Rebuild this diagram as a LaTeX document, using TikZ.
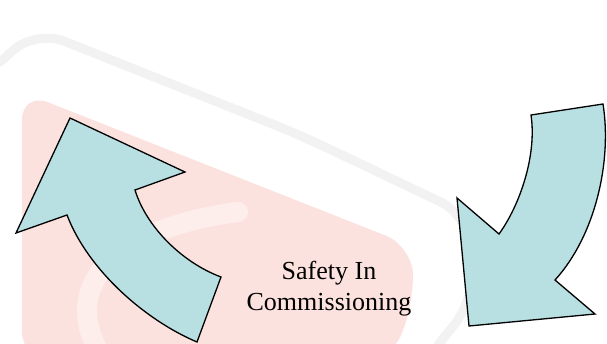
\documentclass[tikz,border=0pt]{standalone}
\usepackage{fontspec}
\setmainfont{Liberation Serif}
\tikzset{
  bigarrow/.style={fill=arrowblue, draw=black, line width=1.3pt, line join=miter},
  wmpink/.style={fill=wmred, draw=none, rounded corners=28pt},
  wmgrey/.style={draw=gray!10, line width=9pt, rounded corners=30pt, line cap=round},
  wmwhite/.style={draw=white, opacity=0.4, line width=20pt, line cap=round},
  caption/.style={align=center, font=\fontsize{26}{31}\selectfont, text=black, inner sep=0pt}
}
\definecolor{arrowblue}{RGB}{184,223,226}
\definecolor{wmred}{RGB}{252,226,222}
\begin{document}
\begin{tikzpicture}[x=1pt, y=-1pt]
  \useasboundingbox[fill=white] (0,0) rectangle (607,343);
  % watermark (faint background)
  \path[wmgrey] (0,62) -- (36,30) -- (300,135) -- (468,215) -- (474,300) -- (438,345);
  \path[wmpink] (22,360) -- (22,92) -- (412,246) -- (414,300) -- (392,360) -- cycle;
  \path[wmwhite] (98,350) .. controls (62,285) and (115,228) .. (238,212);
  % left arrow (pointing up-left)
  \path[bigarrow] (70,118) -- (185,172) -- (135,190)
     .. controls (146,226) and (181,262) .. (221,277)
     -- (197,342)
     .. controls (145,320) and (88,270) .. (67,215)
     -- (16,233) -- cycle;
  % right arrow (pointing down-left)
  \path[bigarrow] (531,115) -- (603,104)
     .. controls (612,160) and (596,235) .. (555,280)
     -- (595,314) -- (469,326) -- (457,198) -- (499,234)
     .. controls (520,205) and (537,155) .. cycle;
  % caption
  \node[caption] (title) at (329,289) {Safety In\\Commissioning};
\end{tikzpicture}
\end{document}
